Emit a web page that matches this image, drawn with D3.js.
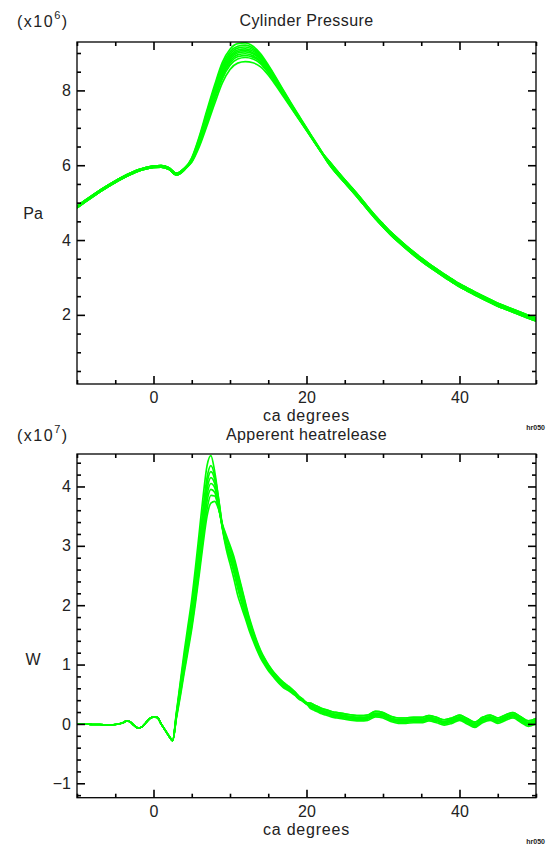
<!DOCTYPE html>
<html>
<head>
<meta charset="utf-8">
<script src="https://cdn.jsdelivr.net/npm/d3@7"></script>
<style>
body{margin:0;background:#fff;}
svg text{font-family:"Liberation Sans",Arial,sans-serif;fill:#222;}
</style>
</head>
<body>
<div id="chart"></div>
<script>
// ---------- data ----------
var xMajor = [0, 20, 40];
var xMinor = [-10, -5, 5, 10, 15, 25, 30, 35, 45, 50];

// cylinder pressure, units of 1e6 Pa
var pMajor = [2, 4, 6, 8];
var pMinor = [0.5, 1, 1.5, 2.5, 3, 3.5, 4.5, 5, 5.5, 6.5, 7, 7.5, 8.5, 9];
var pHeadAngles = [-10,-9,-8,-7,-6,-5,-4,-3,-2,-1,0,1,2,3,4];
var pHeads = [
	[4.86,5.01,5.15,5.29,5.42,5.54,5.65,5.75,5.84,5.90,5.94,5.95,5.89,5.74,5.87],
	[4.90,5.05,5.19,5.33,5.46,5.58,5.69,5.79,5.88,5.94,5.98,5.99,5.93,5.78,5.91]
];
var pWinAngles = [5,6,7,8,9,10,11,12,13,14,15,16,17,18,19,20,21,22];
var pCycles = [
	[6.20,6.78,7.48,8.15,8.75,9.10,9.25,9.27,9.18,8.98,8.68,8.35,8.00,7.66,7.33,7.00,6.68,6.36],
	[6.18,6.74,7.42,8.08,8.68,9.03,9.18,9.21,9.13,8.94,8.65,8.32,7.98,7.64,7.31,6.99,6.67,6.35],
	[6.16,6.70,7.36,8.02,8.62,8.97,9.13,9.16,9.09,8.91,8.62,8.30,7.96,7.62,7.30,6.98,6.66,6.35],
	[6.15,6.68,7.33,7.98,8.57,8.92,9.08,9.11,9.05,8.88,8.60,8.28,7.94,7.61,7.29,6.97,6.65,6.34],
	[6.14,6.66,7.30,7.94,8.52,8.88,9.04,9.07,9.01,8.85,8.58,8.26,7.93,7.60,7.28,6.96,6.65,6.34],
	[6.13,6.63,7.26,7.89,8.47,8.83,9.00,9.03,8.98,8.82,8.55,8.24,7.91,7.59,7.27,6.96,6.64,6.33],
	[6.12,6.60,7.22,7.84,8.42,8.78,8.95,8.98,8.93,8.78,8.52,8.22,7.89,7.57,7.26,6.95,6.64,6.33],
	[6.11,6.58,7.18,7.80,8.37,8.73,8.90,8.93,8.89,8.75,8.50,8.20,7.88,7.56,7.25,6.94,6.63,6.33],
	[6.10,6.55,7.14,7.75,8.31,8.67,8.84,8.88,8.84,8.71,8.47,8.18,7.86,7.55,7.24,6.94,6.63,6.32],
	[6.08,6.50,7.06,7.65,8.20,8.56,8.73,8.77,8.74,8.63,8.41,8.13,7.83,7.53,7.23,6.93,6.63,6.32]
];
var pTailAngles = [23,24,25,26,27,28,29,30,31,32,33,34,35,36,37,38,39,40,41,42,43,44,45,46,47,48,49,50];
var pTails = [
	[6.05,5.80,5.57,5.34,5.10,4.85,4.61,4.39,4.18,3.99,3.81,3.64,3.48,3.33,3.19,3.05,2.92,2.79,2.68,2.57,2.47,2.37,2.27,2.19,2.11,2.03,1.95,1.88],
	[6.10,5.85,5.61,5.38,5.14,4.89,4.65,4.43,4.22,4.03,3.85,3.68,3.52,3.37,3.23,3.09,2.96,2.83,2.72,2.61,2.51,2.41,2.31,2.23,2.15,2.07,1.99,1.92],
	[6.01,5.76,5.53,5.30,5.06,4.81,4.57,4.35,4.14,3.95,3.77,3.60,3.44,3.29,3.15,3.01,2.88,2.75,2.64,2.53,2.43,2.33,2.23,2.15,2.07,1.99,1.91,1.84]
];

// apparent heat release, units of 1e7 W
var hMajor = [-1, 0, 1, 2, 3, 4];
var hMinor = [-1.2,-0.8,-0.6,-0.4,-0.2,0.2,0.4,0.6,0.8,1.2,1.4,1.6,1.8,2.2,2.4,2.6,2.8,3.2,3.4,3.6,3.8,4.2,4.4];
var hHeadAngles = [-10,-9,-8,-7,-6,-5,-4,-3.5,-3,-2.5,-2,-1.5,-1,-0.5,0,0.5,1,1.5,2,2.5];
var hHead = [0,0,-0.01,-0.01,-0.02,-0.01,0.02,0.05,0.03,-0.03,-0.07,-0.05,0.02,0.09,0.12,0.11,0.0,-0.1,-0.2,-0.28];
var hWinAngles = [3,3.5,4,4.5,5,5.5,6,6.5,7,7.5,8,8.5,9,9.5,10,10.5,11,11.5,12,12.5,13,13.5,14,14.5,15,15.5,16,16.5,17,17.5,18,18.5,19,19.5,20];
var hCycles = [
	[0.2,0.7,1.2,1.65,2.1,2.65,3.25,3.85,4.35,4.52,4.25,3.8,3.30,2.95,2.70,2.45,2.17,1.97,1.78,1.58,1.41,1.25,1.11,1.00,0.90,0.82,0.74,0.67,0.61,0.57,0.53,0.48,0.42,0.38,0.33],
	[0.18,0.66,1.12,1.55,1.98,2.5,3.08,3.65,4.15,4.35,4.18,3.8,3.35,3.02,2.79,2.56,2.29,2.05,1.84,1.63,1.45,1.28,1.14,1.02,0.92,0.84,0.76,0.69,0.63,0.59,0.55,0.49,0.43,0.39,0.34],
	[0.16,0.62,1.08,1.5,1.9,2.42,2.98,3.55,4.05,4.25,4.12,3.76,3.33,3.02,2.81,2.60,2.33,2.09,1.87,1.65,1.47,1.30,1.16,1.04,0.94,0.85,0.77,0.70,0.64,0.60,0.56,0.50,0.44,0.39,0.34],
	[0.15,0.6,1.05,1.45,1.85,2.35,2.9,3.45,3.95,4.15,4.05,3.7,3.30,3.00,2.80,2.60,2.35,2.10,1.88,1.66,1.47,1.30,1.16,1.04,0.94,0.85,0.77,0.70,0.64,0.60,0.56,0.50,0.44,0.39,0.34],
	[0.14,0.57,1.0,1.4,1.8,2.28,2.82,3.36,3.85,4.05,3.98,3.68,3.31,3.04,2.85,2.66,2.42,2.17,1.94,1.71,1.51,1.33,1.18,1.06,0.96,0.87,0.79,0.72,0.66,0.61,0.57,0.51,0.45,0.40,0.35],
	[0.13,0.54,0.96,1.35,1.74,2.2,2.72,3.26,3.75,3.95,3.9,3.66,3.33,3.08,2.91,2.72,2.48,2.23,1.98,1.74,1.54,1.36,1.20,1.08,0.98,0.89,0.81,0.74,0.68,0.63,0.58,0.52,0.46,0.41,0.35],
	[0.12,0.5,0.9,1.28,1.66,2.12,2.62,3.15,3.62,3.85,3.84,3.64,3.35,3.14,2.97,2.78,2.53,2.28,2.02,1.77,1.56,1.38,1.22,1.10,0.99,0.90,0.82,0.75,0.69,0.64,0.59,0.53,0.46,0.41,0.36],
	[0.1,0.46,0.85,1.22,1.6,2.05,2.54,3.05,3.5,3.72,3.75,3.62,3.37,3.18,3.01,2.82,2.57,2.31,2.05,1.80,1.59,1.40,1.24,1.11,1.00,0.91,0.83,0.76,0.70,0.65,0.60,0.54,0.47,0.42,0.36]
];
var hTailAngles = [20.5,21,21.5,22,22.5,23,23.5,24,25,26,27,28,29,30,31,32,33,34,35,36,37,38,39,40,41,42,43,44,45,46,47,48,49,50];
var hTails = [
	[0.30,0.27,0.24,0.21,0.19,0.17,0.15,0.14,0.12,0.10,0.09,0.10,0.16,0.14,0.08,0.05,0.05,0.06,0.06,0.09,0.06,0.02,0.05,0.10,0.04,-0.02,0.06,0.10,0.05,0.10,0.14,0.07,0.00,0.04],
	[0.32,0.29,0.26,0.23,0.21,0.19,0.17,0.16,0.14,0.12,0.11,0.12,0.18,0.16,0.10,0.07,0.07,0.08,0.08,0.11,0.08,0.04,0.07,0.12,0.06,0.00,0.08,0.12,0.07,0.12,0.16,0.09,0.02,0.06],
	[0.35,0.32,0.29,0.26,0.24,0.22,0.20,0.19,0.17,0.15,0.14,0.15,0.21,0.19,0.13,0.10,0.10,0.11,0.11,0.14,0.11,0.07,0.10,0.15,0.09,0.03,0.11,0.15,0.10,0.15,0.19,0.12,0.05,0.09],
	[0.28,0.25,0.22,0.19,0.17,0.15,0.13,0.12,0.10,0.08,0.07,0.08,0.14,0.12,0.06,0.03,0.03,0.04,0.04,0.07,0.04,0.00,0.03,0.08,0.02,-0.04,0.04,0.08,0.03,0.08,0.12,0.05,-0.02,0.02],
	[0.26,0.23,0.20,0.17,0.15,0.13,0.11,0.10,0.08,0.06,0.05,0.06,0.12,0.10,0.04,0.01,0.01,0.02,0.02,0.05,0.02,-0.02,0.01,0.06,0.00,-0.06,0.02,0.06,0.01,0.06,0.10,0.03,-0.04,0.00]
];

// ---------- build series from the pieces ----------
function zipPts(angles, vals){
	var out = [];
	for(var i=0;i<angles.length;i++) out.push([angles[i], vals[i]]);
	return out;
}

var pressureSeries = pCycles.map(function(c, i){
	return zipPts(pHeadAngles, pHeads[i % 2])
		.concat(zipPts(pWinAngles, c))
		.concat(zipPts(pTailAngles, pTails[i % 3]));
});
var heatSeries = hCycles.map(function(c, i){
	return zipPts(hHeadAngles, hHead)
		.concat(zipPts(hWinAngles, c))
		.concat(zipPts(hTailAngles, hTails[i % 5]));
});

// ---------- drawing ----------
var W = 547, H = 844;
var svg = d3.select('#chart').append('svg')
	.attr('width', W)
	.attr('height', H);

var x = d3.scaleLinear().domain([-10, 50]).range([77, 536]);

function styleAxis(g){
	g.select('.domain').remove();
	g.attr('font-size', 16).attr('font-family', null);
	g.selectAll('line').attr('stroke', '#000').attr('stroke-width', 1.6);
}

function drawPanel(o){
	var y = d3.scaleLinear().domain(o.yDomain).range([o.bottom, o.top]);
	var g = svg.append('g');
	var clipId = 'clip' + o.id;

	g.append('clipPath').attr('id', clipId)
		.append('rect')
		.attr('x', x.range()[0]).attr('y', o.top)
		.attr('width', x.range()[1] - x.range()[0])
		.attr('height', o.bottom - o.top);

	var line = d3.line()
		.x(function(d){return x(d[0]);})
		.y(function(d){return y(d[1]);})
		.curve(d3.curveMonotoneX);

	g.append('g').attr('clip-path', 'url(#' + clipId + ')')
		.selectAll('path')
		.data(o.series)
		.enter()
		.append('path')
		.attr('d', line)
		.attr('fill', 'none')
		.attr('stroke', '#00ff00')
		.attr('stroke-width', 1.7);

	// bottom axis (labelled) + minors
	g.append('g').attr('transform', 'translate(0,' + o.bottom + ')')
		.call(d3.axisBottom(x).tickValues(xMajor).tickSize(-8).tickSizeOuter(0).tickPadding(8).tickFormat(d3.format('d')))
		.call(styleAxis);
	g.append('g').attr('transform', 'translate(0,' + o.bottom + ')')
		.call(d3.axisBottom(x).tickValues(xMinor).tickSize(-4).tickSizeOuter(0).tickFormat(''))
		.call(styleAxis);
	// top axis
	g.append('g').attr('transform', 'translate(0,' + o.top + ')')
		.call(d3.axisTop(x).tickValues(xMajor).tickSize(-8).tickSizeOuter(0).tickFormat(''))
		.call(styleAxis);
	g.append('g').attr('transform', 'translate(0,' + o.top + ')')
		.call(d3.axisTop(x).tickValues(xMinor).tickSize(-4).tickSizeOuter(0).tickFormat(''))
		.call(styleAxis);
	// left axis (labelled)
	g.append('g').attr('transform', 'translate(' + x.range()[0] + ',0)')
		.call(d3.axisLeft(y).tickValues(o.yMajor).tickSize(-8).tickSizeOuter(0).tickPadding(6).tickFormat(d3.format('d')))
		.call(styleAxis);
	g.append('g').attr('transform', 'translate(' + x.range()[0] + ',0)')
		.call(d3.axisLeft(y).tickValues(o.yMinor).tickSize(-4).tickSizeOuter(0).tickFormat(''))
		.call(styleAxis);
	// right axis
	g.append('g').attr('transform', 'translate(' + x.range()[1] + ',0)')
		.call(d3.axisRight(y).tickValues(o.yMajor).tickSize(-8).tickSizeOuter(0).tickFormat(''))
		.call(styleAxis);
	g.append('g').attr('transform', 'translate(' + x.range()[1] + ',0)')
		.call(d3.axisRight(y).tickValues(o.yMinor).tickSize(-4).tickSizeOuter(0).tickFormat(''))
		.call(styleAxis);

	// frame
	g.append('rect')
		.attr('x', x.range()[0]).attr('y', o.top)
		.attr('width', x.range()[1] - x.range()[0])
		.attr('height', o.bottom - o.top)
		.attr('fill', 'none')
		.attr('stroke', '#000')
		.attr('stroke-width', 1.3);

	// title
	g.append('text')
		.attr('x', (x.range()[0] + x.range()[1]) / 2)
		.attr('y', o.titleY)
		.attr('text-anchor', 'middle')
		.attr('font-size', 16)
		.attr('letter-spacing', 0.4)
		.text(o.title);

	// exponent label
	var ex = g.append('text')
		.attr('x', 17)
		.attr('y', o.expY)
		.attr('font-size', 16)
		.attr('letter-spacing', 1.5);
	ex.append('tspan').text('(x10');
	ex.append('tspan').attr('dy', -8).attr('font-size', 11).text(o.exp);
	ex.append('tspan').attr('dy', 8).text(')');

	// y label
	g.append('text')
		.attr('x', 33)
		.attr('y', o.ylabelY)
		.attr('text-anchor', 'middle')
		.attr('font-size', 16)
		.text(o.ylabel);

	// x label
	g.append('text')
		.attr('x', (x.range()[0] + x.range()[1]) / 2)
		.attr('y', o.bottom + 37)
		.attr('text-anchor', 'middle')
		.attr('font-size', 16)
		.attr('letter-spacing', 0.8)
		.text('ca degrees');

	// small id tag
	g.append('text')
		.attr('x', 545)
		.attr('y', o.bottom + 46)
		.attr('text-anchor', 'end')
		.attr('font-size', 7)
		.attr('font-weight', 'bold')
		.text('hr050');
}

drawPanel({
	id: 'p',
	top: 42, bottom: 384,
	yDomain: [0.152, 9.294],
	yMajor: pMajor, yMinor: pMinor,
	series: pressureSeries,
	title: 'Cylinder Pressure', titleY: 26,
	exp: '6', expY: 27,
	ylabel: 'Pa', ylabelY: 219
});

drawPanel({
	id: 'h',
	top: 454, bottom: 797.7,
	yDomain: [-1.243, 4.547],
	yMajor: hMajor, yMinor: hMinor,
	series: heatSeries,
	title: 'Apperent heatrelease', titleY: 439.5,
	exp: '7', expY: 441,
	ylabel: 'W', ylabelY: 665
});
</script>
</body>
</html>
